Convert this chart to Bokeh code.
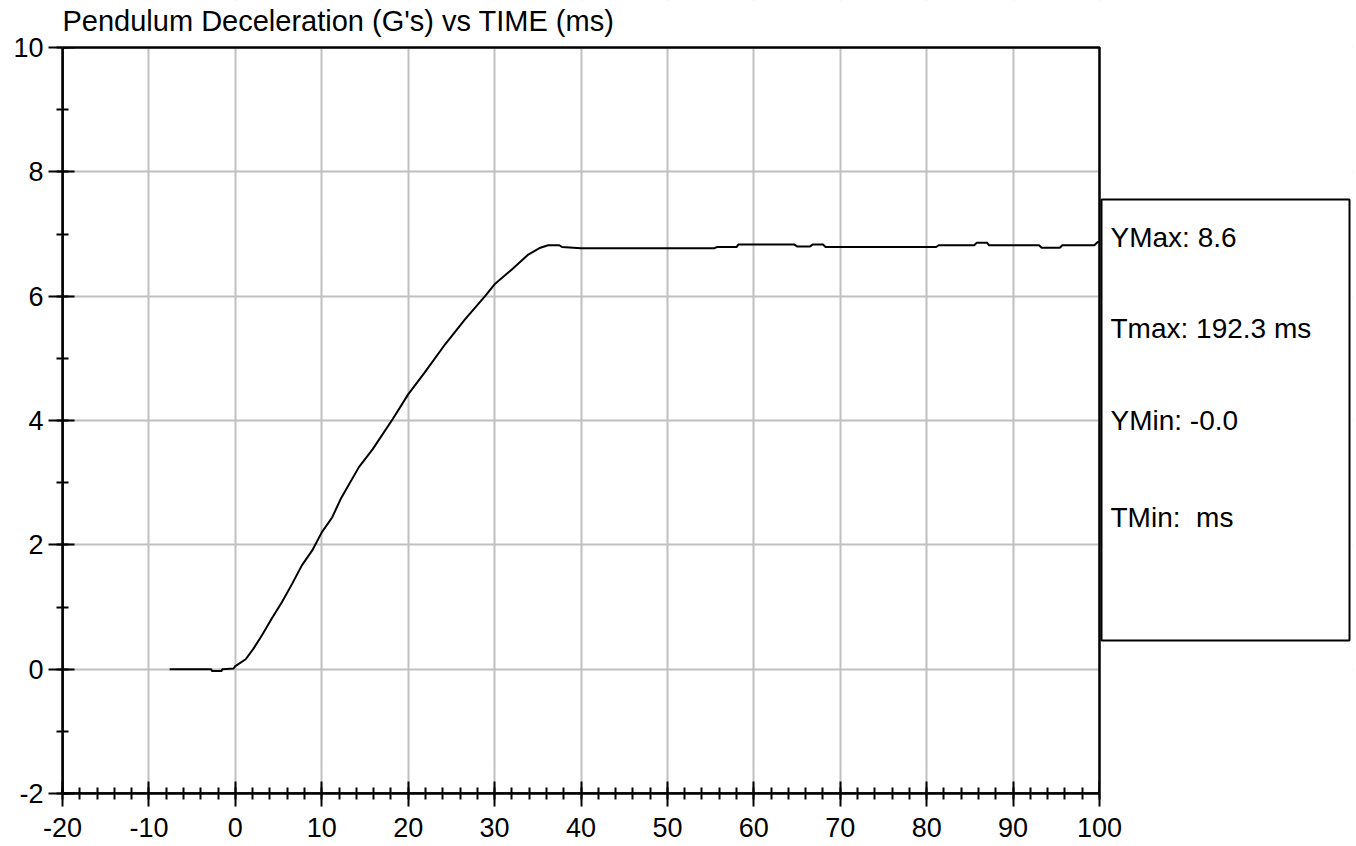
from bokeh.plotting import figure
from bokeh.models import Label, BoxAnnotation, FixedTicker, Range1d
from bokeh.embed import file_html
from bokeh.resources import INLINE

# ---- data ----
time_ms = [-7.6, -2.8, -2.7, -1.6, -1.5, -0.2, 0.0, 1.2, 2.1, 3.1, 4.2, 5.4, 6.6, 7.7, 8.9,
           10.0, 11.2, 12.2, 14.3, 15.9, 18.2, 20.0, 21.9, 24.3, 26.6, 28.9, 30.0, 32.0, 33.9,
           35.3, 36.2, 37.5, 37.8, 40.0, 55.4, 55.7, 58.0, 58.2, 64.7, 65.0, 66.5, 66.8, 68.0,
           68.3, 81.1, 81.4, 85.5, 85.8, 87.0, 87.2, 93.0, 93.3, 95.4, 95.7, 99.4, 99.8, 100.0]
decel_g = [0.0, 0.0, -0.03, -0.03, 0.0, 0.01, 0.05, 0.16, 0.33, 0.55, 0.81, 1.08, 1.38, 1.67, 1.91,
           2.20, 2.44, 2.74, 3.25, 3.54, 4.02, 4.42, 4.77, 5.23, 5.63, 6.00, 6.19, 6.43, 6.67,
           6.78, 6.82, 6.82, 6.79, 6.77, 6.77, 6.79, 6.79, 6.83, 6.83, 6.80, 6.80, 6.83, 6.83,
           6.79, 6.79, 6.82, 6.82, 6.86, 6.86, 6.82, 6.82, 6.78, 6.78, 6.82, 6.82, 6.87, 6.87]

x_ticks = [-20, -10, 0, 10, 20, 30, 40, 50, 60, 70, 80, 90, 100]
x_minor = list(range(-20, 101, 2))
y_ticks = [-2, 0, 2, 4, 6, 8, 10]
y_minor = list(range(-2, 11, 1))
x_lo, x_hi = -20, 100
y_lo, y_hi = -2, 10

title_text = "Pendulum Deceleration (G's) vs TIME (ms)"
info_lines = ["YMax: 8.6", "Tmax: 192.3 ms", "YMin: -0.0", "TMin:\u00a0 ms"]

FONT = "Liberation Sans"

# The plot area is 1037 x 746 px; the frame is extended to the right and to the
# top so that the info box and the title (drawn inside the frame) are not clipped.
AXIS_PX_X, FRAME_W = 1037, 1290
AXIS_PX_Y, FRAME_H = 746, 793
x_end = x_lo + (x_hi - x_lo) * FRAME_W / AXIS_PX_X
y_end = y_lo + (y_hi - y_lo) * FRAME_H / AXIS_PX_Y

p = figure(frame_width=FRAME_W, frame_height=FRAME_H,
           x_range=Range1d(x_lo, x_end), y_range=Range1d(y_lo, y_end),
           output_backend="svg", toolbar_location=None,
           min_border_left=62, min_border_right=2,
           min_border_top=0, min_border_bottom=50)

p.background_fill_color = "white"
p.border_fill_color = "white"
p.outline_line_color = None

p.line(time_ms, decel_g, line_color="black", line_width=2)

for ax, ticks, minor in ((p.xaxis[0], x_ticks, x_minor), (p.yaxis[0], y_ticks, y_minor)):
    ax.ticker = FixedTicker(ticks=ticks, minor_ticks=minor)
    ax.major_label_overrides = {t: str(t) for t in ticks}
    ax.axis_line_color = "black"
    ax.axis_line_width = 2.5
    ax.major_tick_line_color = "black"
    ax.major_tick_line_width = 2
    ax.minor_tick_line_color = "black"
    ax.minor_tick_line_width = 2
    ax.minor_tick_in = 6
    ax.minor_tick_out = 6
    ax.major_label_text_font = FONT
    ax.major_label_text_font_size = "27px"
    ax.major_label_text_color = "black"

p.xaxis.bounds = (x_lo, x_hi)
p.yaxis.bounds = (y_lo, y_hi)
p.xaxis.major_tick_in = 12
p.xaxis.major_tick_out = 13
p.xaxis.major_label_standoff = 11
p.yaxis.major_tick_in = 12
p.yaxis.major_tick_out = 14
p.yaxis.major_label_standoff = 5

for g in (p.xgrid[0], p.ygrid[0]):
    g.grid_line_color = "#c0c0c0"
    g.grid_line_width = 2

# blank the frame outside the plot area (above it and right of it)
p.add_layout(BoxAnnotation(bottom=y_hi, fill_color="white", fill_alpha=1.0, line_color=None))
p.add_layout(BoxAnnotation(left=x_hi, fill_color="white", fill_alpha=1.0, line_color=None))
# border of the plot area
p.add_layout(BoxAnnotation(left=x_lo, right=x_hi, bottom=y_lo, top=y_hi,
                           fill_color=None, fill_alpha=0,
                           line_color="black", line_alpha=1.0, line_width=2.5))

# info box at the right (screen units, relative to the frame)
p.add_layout(BoxAnnotation(left=1039, right=1287, top=594, bottom=153,
                           left_units="screen", right_units="screen",
                           top_units="screen", bottom_units="screen",
                           fill_color=None, fill_alpha=0,
                           line_color="black", line_alpha=1.0, line_width=2))
baselines = [556, 465, 373, 276]
for txt, yb in zip(info_lines, baselines):
    p.add_layout(Label(x=1048, y=yb, x_units="screen", y_units="screen", text=txt,
                       text_font=FONT, text_font_size="28px", text_color="black",
                       text_baseline="alphabetic", text_align="left"))

# chart title
p.add_layout(Label(x=0, y=773, x_units="screen", y_units="screen", text=title_text,
                   text_font=FONT, text_font_size="29px", text_color="black",
                   text_baseline="alphabetic", text_align="left"))

open("out.html", "w").write(file_html(p, INLINE))
